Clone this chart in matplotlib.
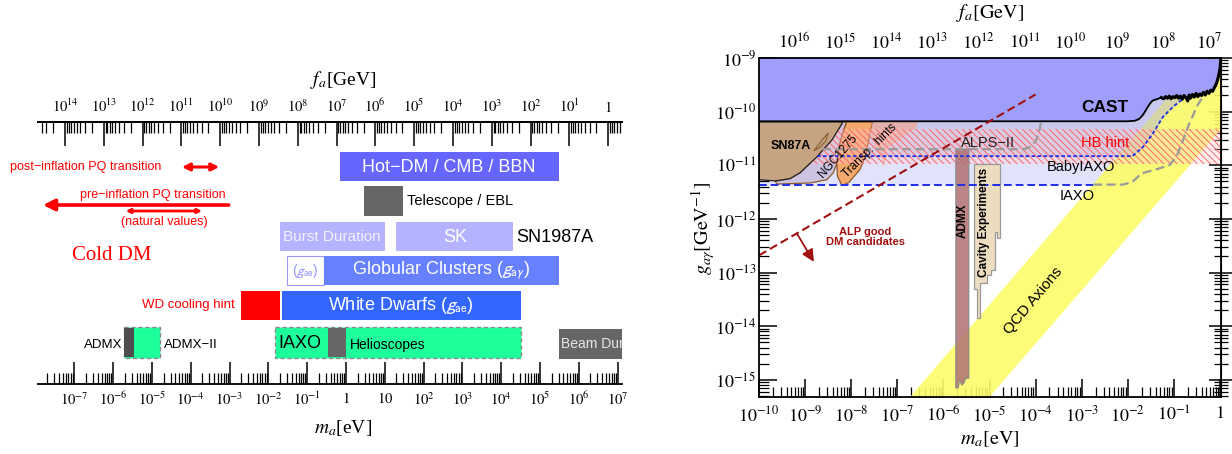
import numpy as np
import matplotlib
matplotlib.use('Agg')
import matplotlib.pyplot as plt
from matplotlib import rcParams
from matplotlib.patches import Rectangle
from matplotlib.ticker import LogLocator, FixedLocator, FuncFormatter, NullFormatter

rcParams['font.family'] = ['Liberation Sans', 'DejaVu Sans']
rcParams['mathtext.fontset'] = 'stix'
rcParams['hatch.linewidth'] = 0.6

W, H = 1232, 454
FA_CONST = 5.7e6  # f_a[GeV] * m_a[eV]

# ---------------- left panel: mass ranges in eV ----------------
hot_dm = (0.7, 3.1e5)
telescope = (2.9, 29.0)
burst = (0.02, 10.0)
sk = (20.0, 2.0e4)
gc_ae = (0.03, 0.27)
gc = (0.27, 3.0e5)
wd_hint = (0.002, 0.02)
wd = (0.022, 3.2e4)
admx2 = (1.9e-6, 1.6e-5)
admx = (1.9e-6, 3.5e-6)
iaxo_range = (0.015, 3.2e4)
helio = (0.34, 1.0)
beam_dump = (3.1e5, 3.0e7)
post_infl = (5.9e-5, 5.4e-4)
pre_infl = (9.5e-4, 1.55e-8)
natural = (2.1e-6, 1.95e-4)

ma_ticks_left = [10.0**n for n in range(-7, 8)]
fa_ticks_left = [10.0**n for n in range(0, 15)]

# ---------------- right panel: curves (log10 m_a [eV], log10 g [1/GeV]) ----------------
cast_logm = [-10.0, -2.0, -1.85, -1.76, -1.70, -1.64, -1.58, -1.52, -1.47, -1.42, -1.37, -1.32,
             -1.27, -1.22, -1.18, -1.14, -1.10, -1.06, -1.02, -0.98, -0.94, -0.90, -0.86, -0.82,
             -0.78, -0.74, -0.70, -0.67, -0.64, -0.60, -0.56, -0.52, -0.48, -0.44, -0.40, -0.36,
             -0.32, -0.28, -0.24, -0.20, -0.16, -0.12, -0.09, -0.06, -0.03, 0.0, 0.02]
cast_logg = [-10.18, -10.18, -10.17, -10.14, -10.09, -10.02, -9.93, -9.85, -9.80, -9.78, -9.77, -9.75,
             -9.74, -9.76, -9.72, -9.75, -9.71, -9.76, -9.72, -9.74, -9.70, -9.75, -9.71, -9.77,
             -9.70, -9.74, -9.80, -9.69, -9.75, -9.68, -9.73, -9.66, -9.72, -9.67, -9.70, -9.64,
             -9.69, -9.62, -9.66, -9.60, -9.62, -9.55, -9.50, -9.43, -9.33, -9.20, -9.0]

iaxo_logm = [-10.0, -2.75, -2.1, -1.9, -1.7, -1.4, -1.1, -0.95, -0.8, -0.68, -0.6, -0.5, -0.37]
iaxo_logg = [-11.36, -11.36, -11.36, -11.31, -11.15, -11.08, -11.0, -10.85, -10.53, -10.25, -10.1, -9.9, -9.72]

baby_logm = [-10.0, -8.74, -1.9, -1.67, -1.45, -1.24, -1.02, -0.8]
baby_logg = [-10.83, -10.83, -10.83, -10.66, -10.4, -10.1, -9.91, -9.76]

alps_logm = [-8.63, -4.25, -4.1, -4.0, -3.93, -3.88]
alps_logg = [-10.7, -10.7, -10.65, -10.55, -10.4, -10.19]

hb_logg = (-10.98, -10.32)

sn87a_logm = [-10.0, -8.18, -8.24, -8.42, -8.61, -8.74, -8.89, -9.11, -9.33, -9.65, -10.0]
sn87a_logg = [-10.19, -10.19, -10.28, -10.53, -10.71, -10.84, -10.96, -11.14, -11.25, -11.29, -11.27]

ngc_logm = [-8.18, -8.24, -8.42, -8.61, -8.74, -8.89, -9.11, -9.33, -9.65, -9.61, -8.89, -8.53,
            -8.39, -8.31, -8.28, -8.2, -8.1]
ngc_logg = [-10.19, -10.28, -10.53, -10.71, -10.84, -10.96, -11.14, -11.25, -11.3, -11.35, -11.33, -11.27,
            -11.14, -10.96, -10.71, -10.45, -10.19]

transp_logm = [-8.1, -8.2, -8.28, -8.31, -8.3, -8.2, -8.05, -7.96, -7.81, -7.7, -7.66, -7.59, -7.53]
transp_logg = [-10.19, -10.45, -10.71, -10.96, -11.2, -11.38, -11.32, -11.23, -11.08, -10.85, -10.71, -10.4, -10.19]

hints_logm = [-7.53, -6.55, -6.6, -6.79, -6.94, -7.1, -7.22, -7.29, -7.34, -7.45, -7.59]
hints_logg = [-10.19, -10.19, -10.32, -10.4, -10.53, -10.6, -10.7, -11.03, -10.85, -10.75, -10.4]

admx_logm = [-5.73, -5.45, -5.45, -5.52, -5.55, -5.6, -5.65, -5.68, -5.73]
admx_logg = [-10.7, -10.7, -14.97, -14.97, -15.05, -15.1, -15.0, -15.15, -15.15]

cavity_logm = [-5.34, -4.77, -4.77, -4.84, -4.84, -4.88, -4.88, -4.97, -4.97, -5.06, -5.06,
               -5.2, -5.2, -5.28, -5.28, -5.34]
cavity_logg = [-10.97, -10.97, -12.35, -12.35, -12.25, -12.25, -12.95, -12.95, -13.05, -13.05, -13.2,
               -13.2, -13.85, -13.85, -13.3, -13.3]

qcd_m = [1.9e-7, 1.05, 1.05, 1.0e-5]
qcd_g = [4.8e-16, 2.6e-9, 4.7e-11, 4.8e-16]

alp_dm_m = [1e-10, 1e-4]
alp_dm_g = [10**-12.68, 10**-9.68]

ma_ticks_right = [10.0**n for n in range(-10, 1)]
g_ticks_right = [10.0**n for n in range(-15, -8)]
fa_ticks_right = [10.0**n for n in range(7, 17)]


def box(x0, x1, y0, y1):
    return [x0 / W, 1 - y1 / H, (x1 - x0) / W, (y1 - y0) / H]


def to_fa(x):
    x = np.asarray(x, dtype=float)
    with np.errstate(divide='ignore'):
        return FA_CONST / x


def pow_label(v, pos):
    n = int(round(np.log10(v)))
    if n == 0:
        return r'$1$'
    return r'$10^{%d}$' % n


def m_label(v, pos):
    n = int(round(np.log10(v)))
    if n == 0:
        return r'$1$'
    if n == 1:
        return r'$10$'
    return r'$10^{%d}$' % n


def set_log_ticks(axis, majors, fmt):
    axis.set_major_locator(FixedLocator(majors))
    axis.set_minor_locator(LogLocator(10, subs=np.arange(2, 10), numticks=40))
    axis.set_major_formatter(FuncFormatter(fmt))
    axis.set_minor_formatter(NullFormatter())


fig = plt.figure(figsize=(W / 100, H / 100), dpi=100)

# ======================= left panel =======================
axL = fig.add_axes(box(38, 622, 122, 384))
axL.set_xscale('log')
axL.set_xlim(10**(-308 / 38.8), 10**(276 / 38.8))
axL.set_ylim(384, 122)
axL.patch.set_alpha(0)
for s in ('left', 'right'):
    axL.spines[s].set_visible(False)
for s in ('top', 'bottom'):
    axL.spines[s].set_linewidth(1.3)
axL.set_yticks([])
set_log_ticks(axL.xaxis, ma_ticks_left, m_label)
axL.tick_params(axis='x', which='major', direction='in', length=16, width=1.1, labelsize=10.5, pad=5)
axL.tick_params(axis='x', which='minor', direction='in', length=8, width=0.9)

topL = axL.secondary_xaxis('top', functions=(to_fa, to_fa))
set_log_ticks(topL.xaxis, fa_ticks_left, pow_label)
topL.tick_params(axis='x', which='major', direction='in', length=17, width=1.1, labelsize=10.5, pad=5)
topL.tick_params(axis='x', which='minor', direction='in', length=8, width=0.9)
topL.spines['top'].set_linewidth(1.3)


def bar(rng, row, fc, ec='none', lw=0, ls='-', z=2):
    axL.add_patch(Rectangle((rng[0], row[0]), rng[1] - rng[0], row[1] - row[0],
                            facecolor=fc, edgecolor=ec, linewidth=lw, linestyle=ls, zorder=z))


ROW_HOT = (152, 181)
ROW_TEL = (186, 216)
ROW_SN = (222, 251)
ROW_GC = (256, 285)
ROW_WD = (291, 320)
ROW_EXP = (327, 358)
ROW_BD = (329, 359)

bar(hot_dm, ROW_HOT, '#6666ff')
bar(telescope, ROW_TEL, '#666666')
bar(burst, ROW_SN, '#b3b3ff')
bar(sk, ROW_SN, '#b3b3ff')
bar(gc_ae, ROW_GC, 'white', ec='#9999ff', lw=0.8)
bar(gc, ROW_GC, '#6680ff')
bar(wd_hint, ROW_WD, '#ff0000')
bar(wd, ROW_WD, '#3366ff')
bar(admx2, ROW_EXP, '#1dff9b', ec='#8a8a8a', lw=1.0, ls=(0, (3, 2)))
bar(admx, (ROW_EXP[0] + 1, ROW_EXP[1] - 1), '#4d4d4d', z=3)
bar(iaxo_range, ROW_EXP, '#1dff9b', ec='#8a8a8a', lw=1.0, ls=(0, (3, 2)))
bar(helio, (ROW_EXP[0] + 1, ROW_EXP[1] - 1), '#666666', z=3)
bar(beam_dump, ROW_BD, '#666666')
axL.text(beam_dump[0] * 1.12, 344, 'Beam Dump', fontsize=10, color='#e6e6e6', ha='left',
         va='center', clip_on=True, zorder=4)

axL.annotate('', xy=(post_infl[1], 167), xytext=(post_infl[0], 167),
             arrowprops=dict(arrowstyle='<|-|>', color='red', lw=2.2, mutation_scale=11,
                             shrinkA=0, shrinkB=0))
axL.annotate('', xy=(pre_infl[1], 205), xytext=(pre_infl[0], 205),
             arrowprops=dict(arrowstyle='-|>', color='red', lw=2.6, mutation_scale=17,
                             shrinkA=0, shrinkB=0))
axL.annotate('', xy=(natural[1], 211), xytext=(natural[0], 211),
             arrowprops=dict(arrowstyle='<|-|>', color='red', lw=2.0, mutation_scale=6,
                             shrinkA=0, shrinkB=0))

# ======================= right panel =======================
axR = fig.add_axes(box(759, 1221, 58, 397))
axR.set_xscale('log')
axR.set_yscale('log')
axR.set_xlim(1e-10, 10**((1221 - 759) / 46.1 - 10))
axR.set_ylim(10**-15.32, 1e-9)
for s in axR.spines.values():
    s.set_linewidth(1.3)
    s.set_zorder(20)

p = lambda v: 10**np.asarray(v, dtype=float)

axR.fill_between(p(iaxo_logm), p(iaxo_logg), 1e-9, color='#e1e3fb', lw=0, zorder=1)
axR.fill(qcd_m, qcd_g, color='#fcfc6a', alpha=0.9, lw=0, zorder=2)
axR.fill_between(p(baby_logm), p(baby_logg), 1e-9, color='#aaaadc', alpha=0.45, lw=0, zorder=2.5)
axR.fill(p(ngc_logm), p(ngc_logg), facecolor='#cdc4e2', edgecolor='#8b5a2b', lw=0.9, zorder=3)
axR.fill(p(transp_logm), p(transp_logg), facecolor='#f3a86c', edgecolor='#8b5a2b', lw=0.9, zorder=3.1)
axR.fill(p(hints_logm), p(hints_logg), facecolor='#e8aea6', edgecolor='none', alpha=0.9, zorder=3.2)
axR.fill_between([1e-10, 1.1], p(hb_logg[0]), p(hb_logg[1]), facecolor=(1, 0.8, 0.8, 0.35),
                 edgecolor='#ff5a5a', hatch='\\\\\\\\\\', lw=0, zorder=3.5)
axR.fill(p(sn87a_logm), p(sn87a_logg), facecolor='#c6a482', edgecolor='#222222', lw=0.9, zorder=4)
axR.plot(p([-8.8, -8.6, -8.5, -8.55, -8.7, -8.8]), p([-10.72, -10.5, -10.4, -10.55, -10.68, -10.72]),
         color='#8b5a2b', lw=0.8, zorder=4.1)
axR.fill_between(p(cast_logm), p(cast_logg), 1e-9, color='#9f9ffb', lw=0, zorder=5)
axR.plot(p(cast_logm), p(cast_logg), color='black', lw=1.3, zorder=6)
axR.plot(p(cast_logm[12:]), p(cast_logg[12:]), color='black', lw=2.2, zorder=6)

axR.fill(p(admx_logm), p(admx_logg), facecolor='#b07072', edgecolor='#888888', alpha=0.85, lw=1.0, zorder=7)
axR.fill(p(cavity_logm), p(cavity_logg), facecolor='#ecdcc0', edgecolor='#999999', lw=0.9, zorder=7)

axR.plot(p(iaxo_logm[:2]), p(iaxo_logg[:2]), color='#1f2ee8', lw=1.4, dashes=(4, 2), zorder=8)
axR.plot(p(iaxo_logm[1:]), p(iaxo_logg[1:]), color='#9a9a9a', lw=1.6, dashes=(4, 2), zorder=8)
axR.plot(p(baby_logm[1:]), p(baby_logg[1:]), color='#1f2ee8', lw=1.3, dashes=(2, 1.3), zorder=8)
axR.plot(p(alps_logm), p(alps_logg), color='#9a9a9a', lw=1.6, dashes=(4, 2), zorder=8)
axR.plot(alp_dm_m, alp_dm_g, color='#a01010', lw=1.5, dashes=(4, 2), zorder=9)
axR.annotate('', xy=(10**-8.81, 10**-12.8), xytext=(10**-9.18, 10**-12.27),
             arrowprops=dict(arrowstyle='-|>', color='#a01010', lw=1.3, mutation_scale=18,
                             shrinkA=0, shrinkB=0), zorder=9)

set_log_ticks(axR.xaxis, ma_ticks_right, pow_label)
set_log_ticks(axR.yaxis, g_ticks_right, pow_label)
axR.tick_params(which='major', direction='in', length=13, width=1.1, labelsize=13, top=False, right=False)
axR.tick_params(which='minor', direction='in', length=7, width=0.9, top=False, right=False)
axR.tick_params(axis='x', pad=6)
axR.tick_params(axis='y', pad=2)

topR = axR.secondary_xaxis('top', functions=(to_fa, to_fa))
set_log_ticks(topR.xaxis, fa_ticks_right, pow_label)
topR.tick_params(which='major', direction='in', length=13, width=1.1, labelsize=13, pad=4)
topR.tick_params(which='minor', direction='in', length=7, width=0.9)

rightR = axR.secondary_yaxis('right')
rightR.yaxis.set_major_locator(FixedLocator(g_ticks_right))
rightR.yaxis.set_minor_locator(LogLocator(10, subs=np.arange(2, 10), numticks=40))
rightR.yaxis.set_major_formatter(NullFormatter())
rightR.yaxis.set_minor_formatter(NullFormatter())
rightR.tick_params(which='major', direction='inout', length=18, width=1.1)
rightR.tick_params(which='minor', direction='inout', length=10, width=0.9)

# ======================= text overlay (pixel coordinates) =======================
ov = fig.add_axes([0, 0, 1, 1])
ov.set_xlim(0, W)
ov.set_ylim(H, 0)
ov.axis('off')
ov.set_zorder(30)

serif = ['Liberation Serif', 'DejaVu Serif']


def t(x, y, s, size, color='black', ha='center', rot=0, weight='normal', family=None, mf='stixsans', **kw):
    ov.text(x, y, s, fontsize=size, color=color, ha=ha, va='center', rotation=rot,
            fontweight=weight, family=family if family else rcParams['font.family'],
            math_fontfamily=mf, rotation_mode='anchor', **kw)


# left panel
t(343, 80, r'$f_a$[GeV]', 14, family=serif, mf='stix')
t(343, 428, r'$m_a$[eV]', 14, family=serif, mf='stix')
t(449, 167, 'Hot\u2212DM / CMB / BBN', 13, color='white')
t(407, 201, 'Telescope / EBL', 10.5, ha='left')
t(332, 237, 'Burst Duration', 11, color='#f2f2ff')
t(455, 237, 'SK', 13, color='white')
t(516, 237, 'SN1987A', 13, ha='left')
t(305, 271, r'($g_{\mathrm{ae}}$)', 10, color='#9a9aff')
t(441, 271, r'Globular Clusters ($g_{\mathrm{a}\gamma}$)', 13, color='white')
t(235, 305, 'WD cooling hint', 9.5, color='red', ha='right')
t(401, 305, r'White Dwarfs ($g_{\mathrm{ae}}$)', 13, color='white')
t(122, 345, 'ADMX', 9.5, ha='right')
t(164, 345, 'ADMX\u2212II', 9.5, ha='left')
t(278, 343, 'IAXO', 13, ha='left')
t(350, 345, 'Helioscopes', 10, ha='left')
t(10, 167, 'post\u2212inflation PQ transition', 9, color='red', ha='left')
t(226, 195, 'pre\u2212inflation PQ transition', 9, color='red', ha='right')
t(164, 222, '(natural values)', 9, color='red')
t(112, 255, 'Cold DM', 15, color='red', family=serif)

# right panel
t(990, 13, r'$f_a[\mathrm{GeV}]$', 14.5, mf='stix')
t(990, 439, r'$m_a[\mathrm{eV}]$', 14.5, mf='stix')
t(703, 228, r'$g_{a\gamma}[\mathrm{GeV}^{-1}]$', 14.5, rot=90, mf='stix')
t(1105, 108, 'CAST', 12.5, weight='bold')
t(791, 146, 'SN87A', 9, weight='bold')
t(838, 156, 'NGC1275', 8.5, rot=49)
t(870, 151, 'Transp.  hints', 8.5, rot=45)
t(988, 143, 'ALPS\u2212II', 10.5, color='#222222')
t(1105, 143, 'HB hint', 10.5, color='red')
t(1081, 167, 'BabyIAXO', 10.5)
t(1077, 196, 'IAXO', 10.5)
t(865, 237, 'ALP good\nDM candidates', 8, color='#a01010', weight='bold', linespacing=1.0)
t(963, 221, 'ADMX', 8.5, rot=90, weight='bold')
t(984, 222, 'Cavity Experiments', 8.5, rot=90, weight='bold')
t(1033, 301, 'QCD Axions', 11, rot=50)

fig.savefig('out.png', dpi=100)
